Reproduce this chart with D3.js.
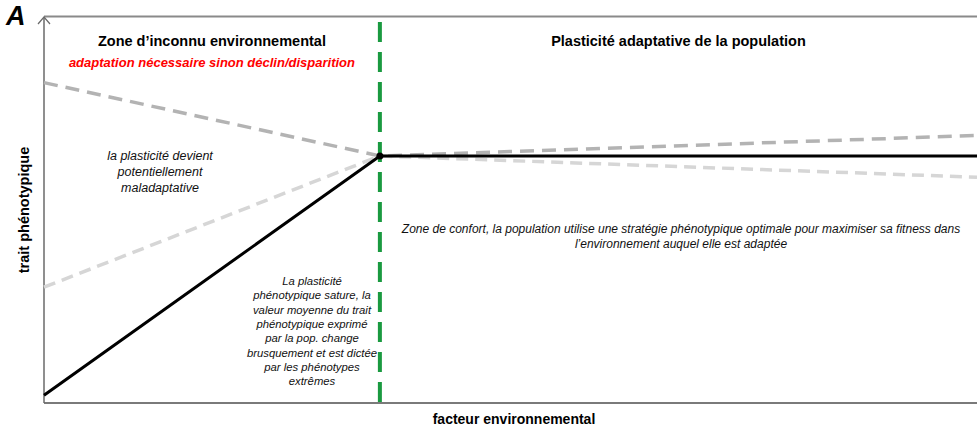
<!DOCTYPE html>
<html>
<head>
<meta charset="utf-8">
<script src="https://cdn.jsdelivr.net/npm/d3@7"></script>
<style>
  body { margin: 0; background: #fff; }
  svg { display: block; font-family: "Liberation Sans", Arial, Helvetica, sans-serif; }
</style>
</head>
<body>
<div id="chart"></div>
<script>
  // facteur environnemental (0-100) / trait phénotypique (0-100)
  let breakX = 36;
  let reactionNorm = [[0, 2], [36, 64], [100, 64]];
  let upperDashed = [[0, 83], [36, 64], [100, 69.3]];
  let lowerDashed = [[0, 30], [36, 64], [100, 58.5]];

  let headers = ["Zone d\u2019inconnu environnemental", "Plasticit\u00e9 adaptative de la population"];
  let warningText = "adaptation n\u00e9cessaire sinon d\u00e9clin/disparition";
  let noteMaladaptive = ["la plasticit\u00e9 devient", "potentiellement", "maladaptative"];
  let noteSature = ["La plasticit\u00e9", "ph\u00e9notypique sature, la", "valeur moyenne du trait",
                    "ph\u00e9notypique exprim\u00e9", "par la pop. change", "brusquement et est dict\u00e9e",
                    "par les ph\u00e9notypes", "extr\u00eames"];
  let noteConfort = ["Zone de confort, la population utilise une strat\u00e9gie ph\u00e9notypique optimale pour maximiser sa fitness dans",
                     "l\u2019environnement auquel elle est adapt\u00e9e"];

  let svgWidth = 977, svgHeight = 432;
  let margin = {top: 17, right: 0, bottom: 29, left: 44};

  let svg = d3.select("#chart").append("svg")
    .attr("width", svgWidth)
    .attr("height", svgHeight);

  let x = d3.scaleLinear().domain([0, 100]).range([margin.left, svgWidth - margin.right]);
  let y = d3.scaleLinear().domain([0, 100]).range([svgHeight - margin.bottom, margin.top]);

  let line = d3.line().x(d => x(d[0])).y(d => y(d[1]));

  // frame: top border, left axis, bottom axis
  svg.append("line")
    .attr("x1", x(0)).attr("x2", x(100))
    .attr("y1", y(100) - 0.5).attr("y2", y(100) - 0.5)
    .attr("stroke", "#8a8a8a").attr("stroke-width", 2);
  svg.append("line")
    .attr("x1", x(0)).attr("x2", x(100))
    .attr("y1", y(0)).attr("y2", y(0))
    .attr("stroke", "#7a7a7a").attr("stroke-width", 2);
  svg.append("line")
    .attr("x1", x(0)).attr("x2", x(0))
    .attr("y1", y(0)).attr("y2", y(100))
    .attr("stroke", "#6a6a6a").attr("stroke-width", 1.5);
  svg.append("path")
    .attr("d", `M${x(0) - 6},${y(100) + 7} L${x(0)},${y(100)} L${x(0) + 6},${y(100) + 7}`)
    .attr("fill", "none").attr("stroke", "#6a6a6a").attr("stroke-width", 1.2);

  // dashed norms
  svg.append("path").datum(upperDashed)
    .attr("d", line).attr("fill", "none")
    .attr("stroke", "#b3b3b3").attr("stroke-width", 3.5)
    .attr("stroke-dasharray", "14,8");
  svg.append("path").datum(lowerDashed)
    .attr("d", line).attr("fill", "none")
    .attr("stroke", "#d6d6d6").attr("stroke-width", 3.5)
    .attr("stroke-dasharray", "12,7");

  // main reaction norm
  svg.append("path").datum(reactionNorm)
    .attr("d", line).attr("fill", "none")
    .attr("stroke", "#000").attr("stroke-width", 3);

  // green threshold
  svg.append("line")
    .attr("x1", x(breakX)).attr("x2", x(breakX))
    .attr("y1", y(100) + 5).attr("y2", y(0))
    .attr("stroke", "#1a9a40").attr("stroke-width", 4)
    .attr("stroke-dasharray", "20,10");

  svg.append("circle")
    .attr("cx", x(reactionNorm[1][0])).attr("cy", y(reactionNorm[1][1]))
    .attr("r", 3.5).attr("fill", "#000");

  // panel letter
  svg.append("text")
    .attr("x", 6).attr("y", 25)
    .attr("font-size", "27px").attr("font-weight", "700").attr("font-style", "italic")
    .text("A");

  // zone headers
  svg.append("text")
    .attr("x", (x(0) + x(breakX)) / 2).attr("y", 46)
    .attr("text-anchor", "middle").attr("font-size", "14.5px").attr("font-weight", "700")
    .text(headers[0]);
  svg.append("text")
    .attr("x", (x(breakX) + x(100)) / 2).attr("y", 46)
    .attr("text-anchor", "middle").attr("font-size", "14.5px").attr("font-weight", "700")
    .text(headers[1]);
  svg.append("text")
    .attr("x", (x(0) + x(breakX)) / 2).attr("y", 67)
    .attr("text-anchor", "middle").attr("font-size", "13px").attr("font-weight", "700")
    .attr("font-style", "italic").attr("fill", "#ff0000")
    .text(warningText);

  function addNote(lines, cx, y0, step, size) {
    svg.append("g").selectAll("text")
      .data(lines)
      .enter().append("text")
        .attr("x", cx)
        .attr("y", (d, i) => y0 + i * step)
        .attr("text-anchor", "middle")
        .attr("font-size", size)
        .attr("font-style", "italic")
        .attr("fill", "#111")
        .text(d => d);
  }

  addNote(noteMaladaptive, 160, 160, 16, "12.5px");
  addNote(noteSature, 312, 285, 14.3, "11.3px");
  addNote(noteConfort, 681, 233, 15, "12px");

  // axis titles
  svg.append("text")
    .attr("transform", `translate(29, ${(y(0) + y(100)) / 2}) rotate(-90)`)
    .attr("text-anchor", "middle").attr("font-size", "14.5px").attr("font-weight", "700")
    .text("trait ph\u00e9notypique");
  svg.append("text")
    .attr("x", 514).attr("y", 424)
    .attr("text-anchor", "middle").attr("font-size", "14px").attr("font-weight", "700")
    .text("facteur environnemental");
</script>
</body>
</html>
